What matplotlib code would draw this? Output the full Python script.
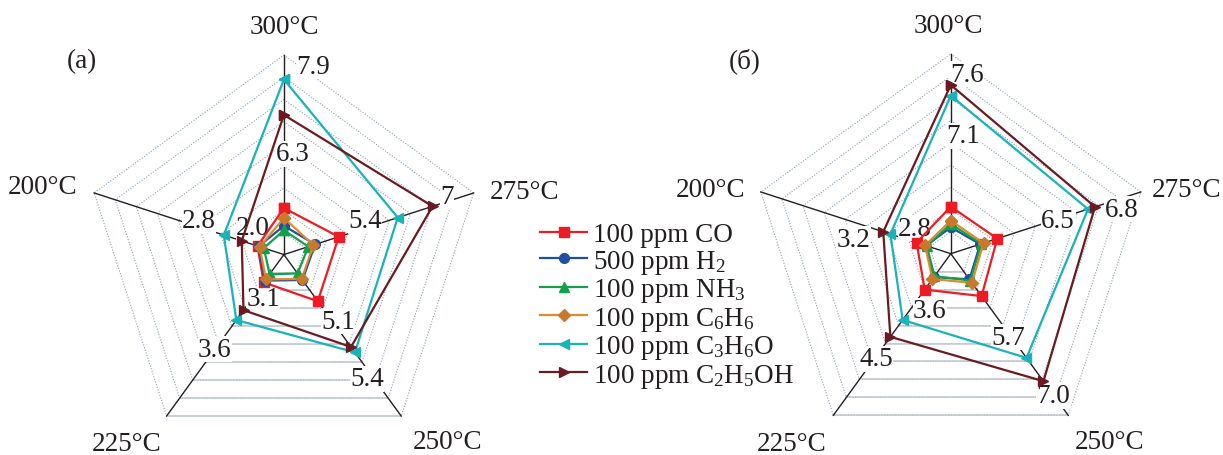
import numpy as np
import matplotlib.pyplot as plt

plt.rcParams['font.family'] = ['Liberation Serif', 'DejaVu Serif']
plt.rcParams['mathtext.fontset'] = 'custom'
plt.rcParams['mathtext.rm'] = 'Liberation Serif'
plt.rcParams['mathtext.it'] = 'Liberation Serif:italic'
plt.rcParams['text.color'] = '#231f20'

temps = ['300°C', '275°C', '250°C', '225°C', '200°C']
gases = ['100 ppm CO', '500 ppm H$_2$', '100 ppm NH$_3$', '100 ppm C$_6$H$_6$',
         '100 ppm C$_3$H$_6$O', '100 ppm C$_2$H$_5$OH']

# panel (a) - values at 300, 275, 250, 225, 200 °C
a_co = [2.1, 2.6, 2.6, 1.55, 1.25]
a_h2 = [1.3, 1.48, 1.42, 1.45, 1.2]
a_nh3 = [1.1, 1.16, 1.05, 1.1, 0.95]
a_c6h6 = [1.65, 1.4, 1.36, 1.38, 1.15]
a_c3h6o = [7.9, 5.4, 5.45, 3.65, 2.85]
a_c2h5oh = [6.3, 7.05, 5.15, 3.1, 2.0]

# panel (б)
b_co = [2.12, 2.2, 2.36, 2.0, 1.62]
b_h2 = [1.19, 1.39, 1.43, 1.3, 1.17]
b_nh3 = [1.34, 1.45, 1.5, 1.25, 1.14]
b_c6h6 = [1.49, 1.55, 1.62, 1.41, 1.22]
b_c3h6o = [7.12, 6.5, 5.8, 3.69, 2.86]
b_c2h5oh = [7.6, 6.83, 7.1, 4.63, 3.2]

a_lbl = ['7.9', '6.3', '7', '5.4', '5.1', '5.4', '3.1', '3.6', '2.8', '2.0']
a_lbl_xy = [(1.31, 8.5), (0.41, 4.54), (7.36, 2.64), (3.66, 1.52), (2.44, -3.0),
            (3.75, -5.61), (-0.94, -2.0), (-3.11, -4.26), (-3.83, 1.52), (-1.39, 1.24)]
b_lbl = ['7.6', '7.1', '6.8', '6.5', '5.7', '7.0', '3.6', '4.5', '3.2', '2.8']
b_lbl_xy = [(0.72, 8.09), (0.56, 5.32), (7.7, 2.01), (4.84, 1.49), (2.59, -3.77),
            (4.62, -6.4), (-0.94, -2.57), (-3.37, -4.74), (-4.39, 0.66), (-1.61, 1.14)]
a_cat_xy = [(0.0, 10.3), (10.87, 2.86), (7.36, -8.45), (-7.08, -8.54), (-10.87, 3.05)]
b_cat_xy = [(-0.11, 10.27), (10.63, 2.91), (7.17, -8.48), (-7.17, -8.56), (-10.8, 2.91)]

colors = ['#ed1c24', '#1f4fa0', '#12a14b', '#e08a2e', '#19b3b8', '#6a1b21']
mcolors = ['#ed1c24', '#1f4fa0', '#12a14b', '#c8792e', '#19b3b8', '#6a1b21']
markers = ['s', 'o', '^', 'D', '<', '>']
msizes = [7, 7, 7, 6.5, 7.5, 7.5]
fs = 19.5

W, H = 1223, 456
fig = plt.figure(figsize=(W / 100, H / 100), dpi=100)
theta = np.deg2rad(90 - 72 * np.arange(5))
rmax = 9


def make_ax(x0, x1, cx, cy, s):
    ax = fig.add_axes([x0 / W, 0, (x1 - x0) / W, 1])
    ax.set_xlim((x0 - cx) / s, (x1 - cx) / s)
    ax.set_ylim((cy - H) / s, cy / s)
    ax.axis('off')
    return ax


def draw_panel(ax, series, lbl, lbl_xy, cat_xy, tag, tag_xy):
    th = np.append(theta, theta[0])
    for r in range(1, rmax + 1):
        ax.plot(r * np.cos(th), r * np.sin(th), color='#8fa3b8', lw=0.8,
                ls=(0, (1, 1.5)), zorder=1)
        ax.plot(r * np.cos(theta[2:4]), r * np.sin(theta[2:4]), color='#c0c8ce',
                lw=1.1, zorder=1)
    for t in theta:
        ax.plot([0, rmax * np.cos(t)], [0, rmax * np.sin(t)], color='#231f20',
                lw=1.0, zorder=2)
    for txt, (x, y) in zip(lbl, lbl_xy):
        ax.text(x, y, txt, fontsize=fs, ha='center', va='center', zorder=3,
                bbox=dict(facecolor='white', edgecolor='none', pad=0.3))
    for txt, (x, y) in zip(temps, cat_xy):
        ax.text(x, y, txt, fontsize=fs, ha='center', va='center')
    ax.text(tag_xy[0], tag_xy[1], tag, fontsize=fs, ha='center', va='center')
    lines = []
    for v, c, mc, m, ms, name in zip(series, colors, mcolors, markers, msizes, gases):
        v = np.append(v, v[0])
        ln, = ax.plot(v * np.cos(th), v * np.sin(th), color=c, lw=1.6, marker=m,
                      ms=ms, mfc=mc, mec=mc, label=name, zorder=4)
        lines.append(ln)
    return lines


ax_a = make_ax(0, 560, 283.9, 255.6, 22.17)
handles = draw_panel(ax_a, [a_co, a_h2, a_nh3, a_c6h6, a_c3h6o, a_c2h5oh],
                     a_lbl, a_lbl_xy, a_cat_xy, '(a)', (-9.11, 8.73))
ax_b = make_ax(680, W, 950.8, 254.7, 22.2)
draw_panel(ax_b, [b_co, b_h2, b_nh3, b_c6h6, b_c3h6o, b_c2h5oh],
           b_lbl, b_lbl_xy, b_cat_xy, '(б)', (-9.27, 8.7))

fig.legend(handles=handles, loc='upper left', bbox_to_anchor=(540 / W, 1 - 223 / H),
           frameon=False, fontsize=fs, handlelength=1.75, handletextpad=0.2,
           labelspacing=0.02, borderpad=0, borderaxespad=0)

fig.savefig('out.png', dpi=100)
